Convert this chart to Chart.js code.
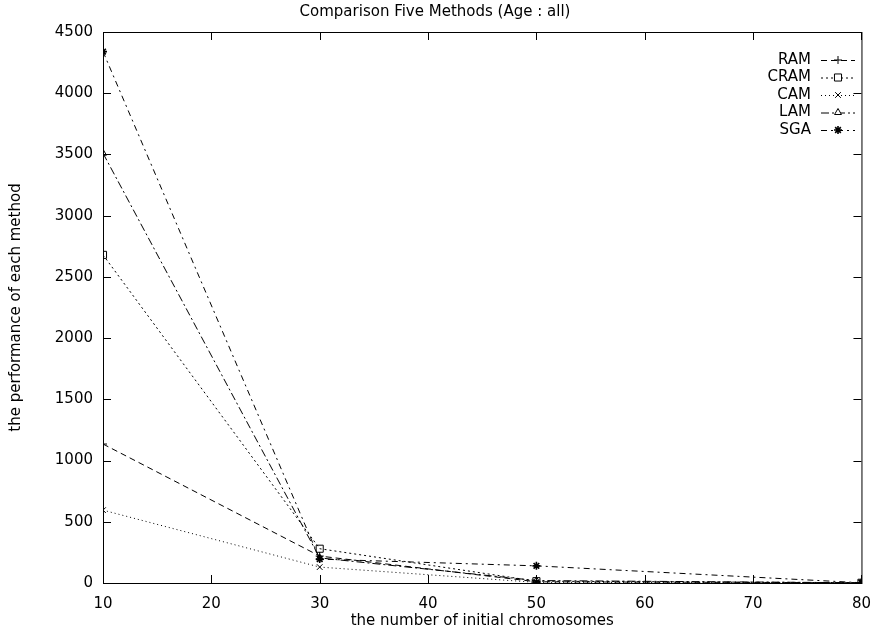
<!DOCTYPE html>
<html>
<head>
<meta charset="utf-8">
<script src="https://cdn.jsdelivr.net/npm/chart.js@4.4.0/dist/chart.umd.min.js"></script>
<style>
  html, body { margin: 0; padding: 0; background: #fff; }
  #wrap { width: 883px; height: 631px; }
</style>
</head>
<body>
<div id="wrap"><canvas id="chart" width="883" height="631"></canvas></div>
<script>
// x values: number of initial chromosomes
const chromosomes = [10, 30, 50, 80];

// performance of each method
const ram  = [1135, 220, 10, 2];
const cram = [2680, 280, 15, 2];
const cam  = [595, 130, 5, 2];
const lam  = [3510, 205, 20, 2];
const sga  = [4340, 195, 140, 2];

const yTicks = [0, 500, 1000, 1500, 2000, 2500, 3000, 3500, 4000, 4500];
const xTicks = [10, 20, 30, 40, 50, 60, 70, 80];

const FONT = "'DejaVu Sans', Verdana, sans-serif";
const FS = 15;

function series(label, values, pointStyle, dash, radius, bw) {
    return {
        label: label,
        data: chromosomes.map((x, i) => ({ x: x, y: values[i] })),
        borderColor: "#000",
        backgroundColor: "#fff",
        borderWidth: 1,
        borderDash: dash,
        pointStyle: pointStyle,
        pointRadius: radius,
        pointBorderWidth: bw,
        pointBorderColor: "#000",
        pointBackgroundColor: "rgba(255,255,255,0)",
        tension: 0,
    };
}

const datasets = [
    series("RAM", ram, "cross", [6, 4], 4, 1),
    series("CRAM", cram, "rect", [2, 3], 5, 1),
    series("CAM", cam, "crossRot", [1, 3], 4, 1),
    series("LAM", lam, "triangle", [8, 3, 2, 3], 4, 1),
    series("SGA", sga, "star", [6, 4, 2, 4], 4, 1.6),
];

// gnuplot style: box frame, inward ticks on all four sides
const framePlugin = {
    id: "frame",
    afterDatasetsDraw(chart) {
        const { ctx, chartArea: a, scales } = chart;
        ctx.save();
        ctx.strokeStyle = "#000";
        ctx.lineWidth = 1;
        ctx.setLineDash([]);
        ctx.strokeRect(a.left + 0.5, a.top + 0.5, a.right - a.left, a.bottom - a.top);
        const len = 8;
        ctx.beginPath();
        xTicks.forEach(v => {
            const px = Math.round(scales.x.getPixelForValue(v)) + 0.5;
            ctx.moveTo(px, a.bottom); ctx.lineTo(px, a.bottom - len);
            ctx.moveTo(px, a.top); ctx.lineTo(px, a.top + len);
        });
        yTicks.forEach(v => {
            const py = Math.round(scales.y.getPixelForValue(v)) + 0.5;
            ctx.moveTo(a.left, py); ctx.lineTo(a.left + len, py);
            ctx.moveTo(a.right, py); ctx.lineTo(a.right - len, py);
        });
        ctx.stroke();
        ctx.restore();
    }
};

// legend: label on the left, line sample with marker on the right
const keyPlugin = {
    id: "key",
    afterDraw(chart) {
        const { ctx } = chart;
        const textRight = 811, x0 = 821, x1 = 855, top = 60, step = 17.5;
        ctx.save();
        ctx.font = FS + "px " + FONT;
        ctx.textAlign = "right";
        ctx.textBaseline = "middle";
        chart.data.datasets.forEach((ds, i) => {
            const y = top + i * step;
            ctx.fillStyle = "#000";
            ctx.fillText(ds.label, textRight, y);
            ctx.strokeStyle = "#000";
            ctx.lineWidth = 1;
            ctx.setLineDash(ds.borderDash);
            ctx.beginPath();
            ctx.moveTo(x0, y + 0.5);
            ctx.lineTo(x1, y + 0.5);
            ctx.stroke();
            ctx.setLineDash([]);
            ctx.fillStyle = "#fff";
            ctx.lineWidth = ds.pointBorderWidth;
            Chart.helpers.drawPoint(ctx, {
                pointStyle: ds.pointStyle,
                radius: ds.pointRadius,
                rotation: 0,
                borderWidth: ds.pointBorderWidth,
            }, (x0 + x1) / 2, y);
        });
        ctx.restore();
    }
};

new Chart(document.getElementById("chart"), {
    type: "line",
    data: { datasets: datasets },
    options: {
        responsive: false,
        animation: false,
        layout: { padding: { left: 0, right: 13, top: 0, bottom: 0 } },
        plugins: {
            legend: { display: false },
            tooltip: { enabled: false },
            title: {
                display: true,
                text: "Comparison Five Methods (Age : all)",
                color: "#000",
                font: { family: FONT, size: FS, weight: "normal" },
                padding: { top: 3, bottom: 11 },
            },
        },
        scales: {
            x: {
                type: "linear",
                min: 10,
                max: 80,
                afterBuildTicks: scale => { scale.ticks = xTicks.map(v => ({ value: v })); },
                afterFit: scale => { scale.height = 48; },
                grid: { display: false, drawTicks: false },
                border: { display: false },
                ticks: {
                    color: "#000", padding: 12, maxRotation: 0,
                    font: { family: FONT, size: FS },
                    callback: v => String(v),
                },
                title: {
                    display: true,
                    text: "the number of initial chromosomes",
                    color: "#000",
                    font: { family: FONT, size: FS },
                    padding: { top: 0, bottom: 1 },
                },
            },
            y: {
                type: "linear",
                min: 0,
                max: 4500,
                afterBuildTicks: scale => { scale.ticks = yTicks.map(v => ({ value: v })); },
                afterFit: scale => { scale.width = 103; },
                grid: { display: false, drawTicks: false },
                border: { display: false },
                ticks: {
                    color: "#000", padding: 10,
                    font: { family: FONT, size: FS },
                    callback: v => String(v),
                },
                title: {
                    display: true,
                    text: "the performance of each method",
                    color: "#000",
                    font: { family: FONT, size: FS },
                    padding: { top: 7, bottom: 0 },
                },
            },
        },
    },
    plugins: [framePlugin, keyPlugin],
});
</script>
</body>
</html>
